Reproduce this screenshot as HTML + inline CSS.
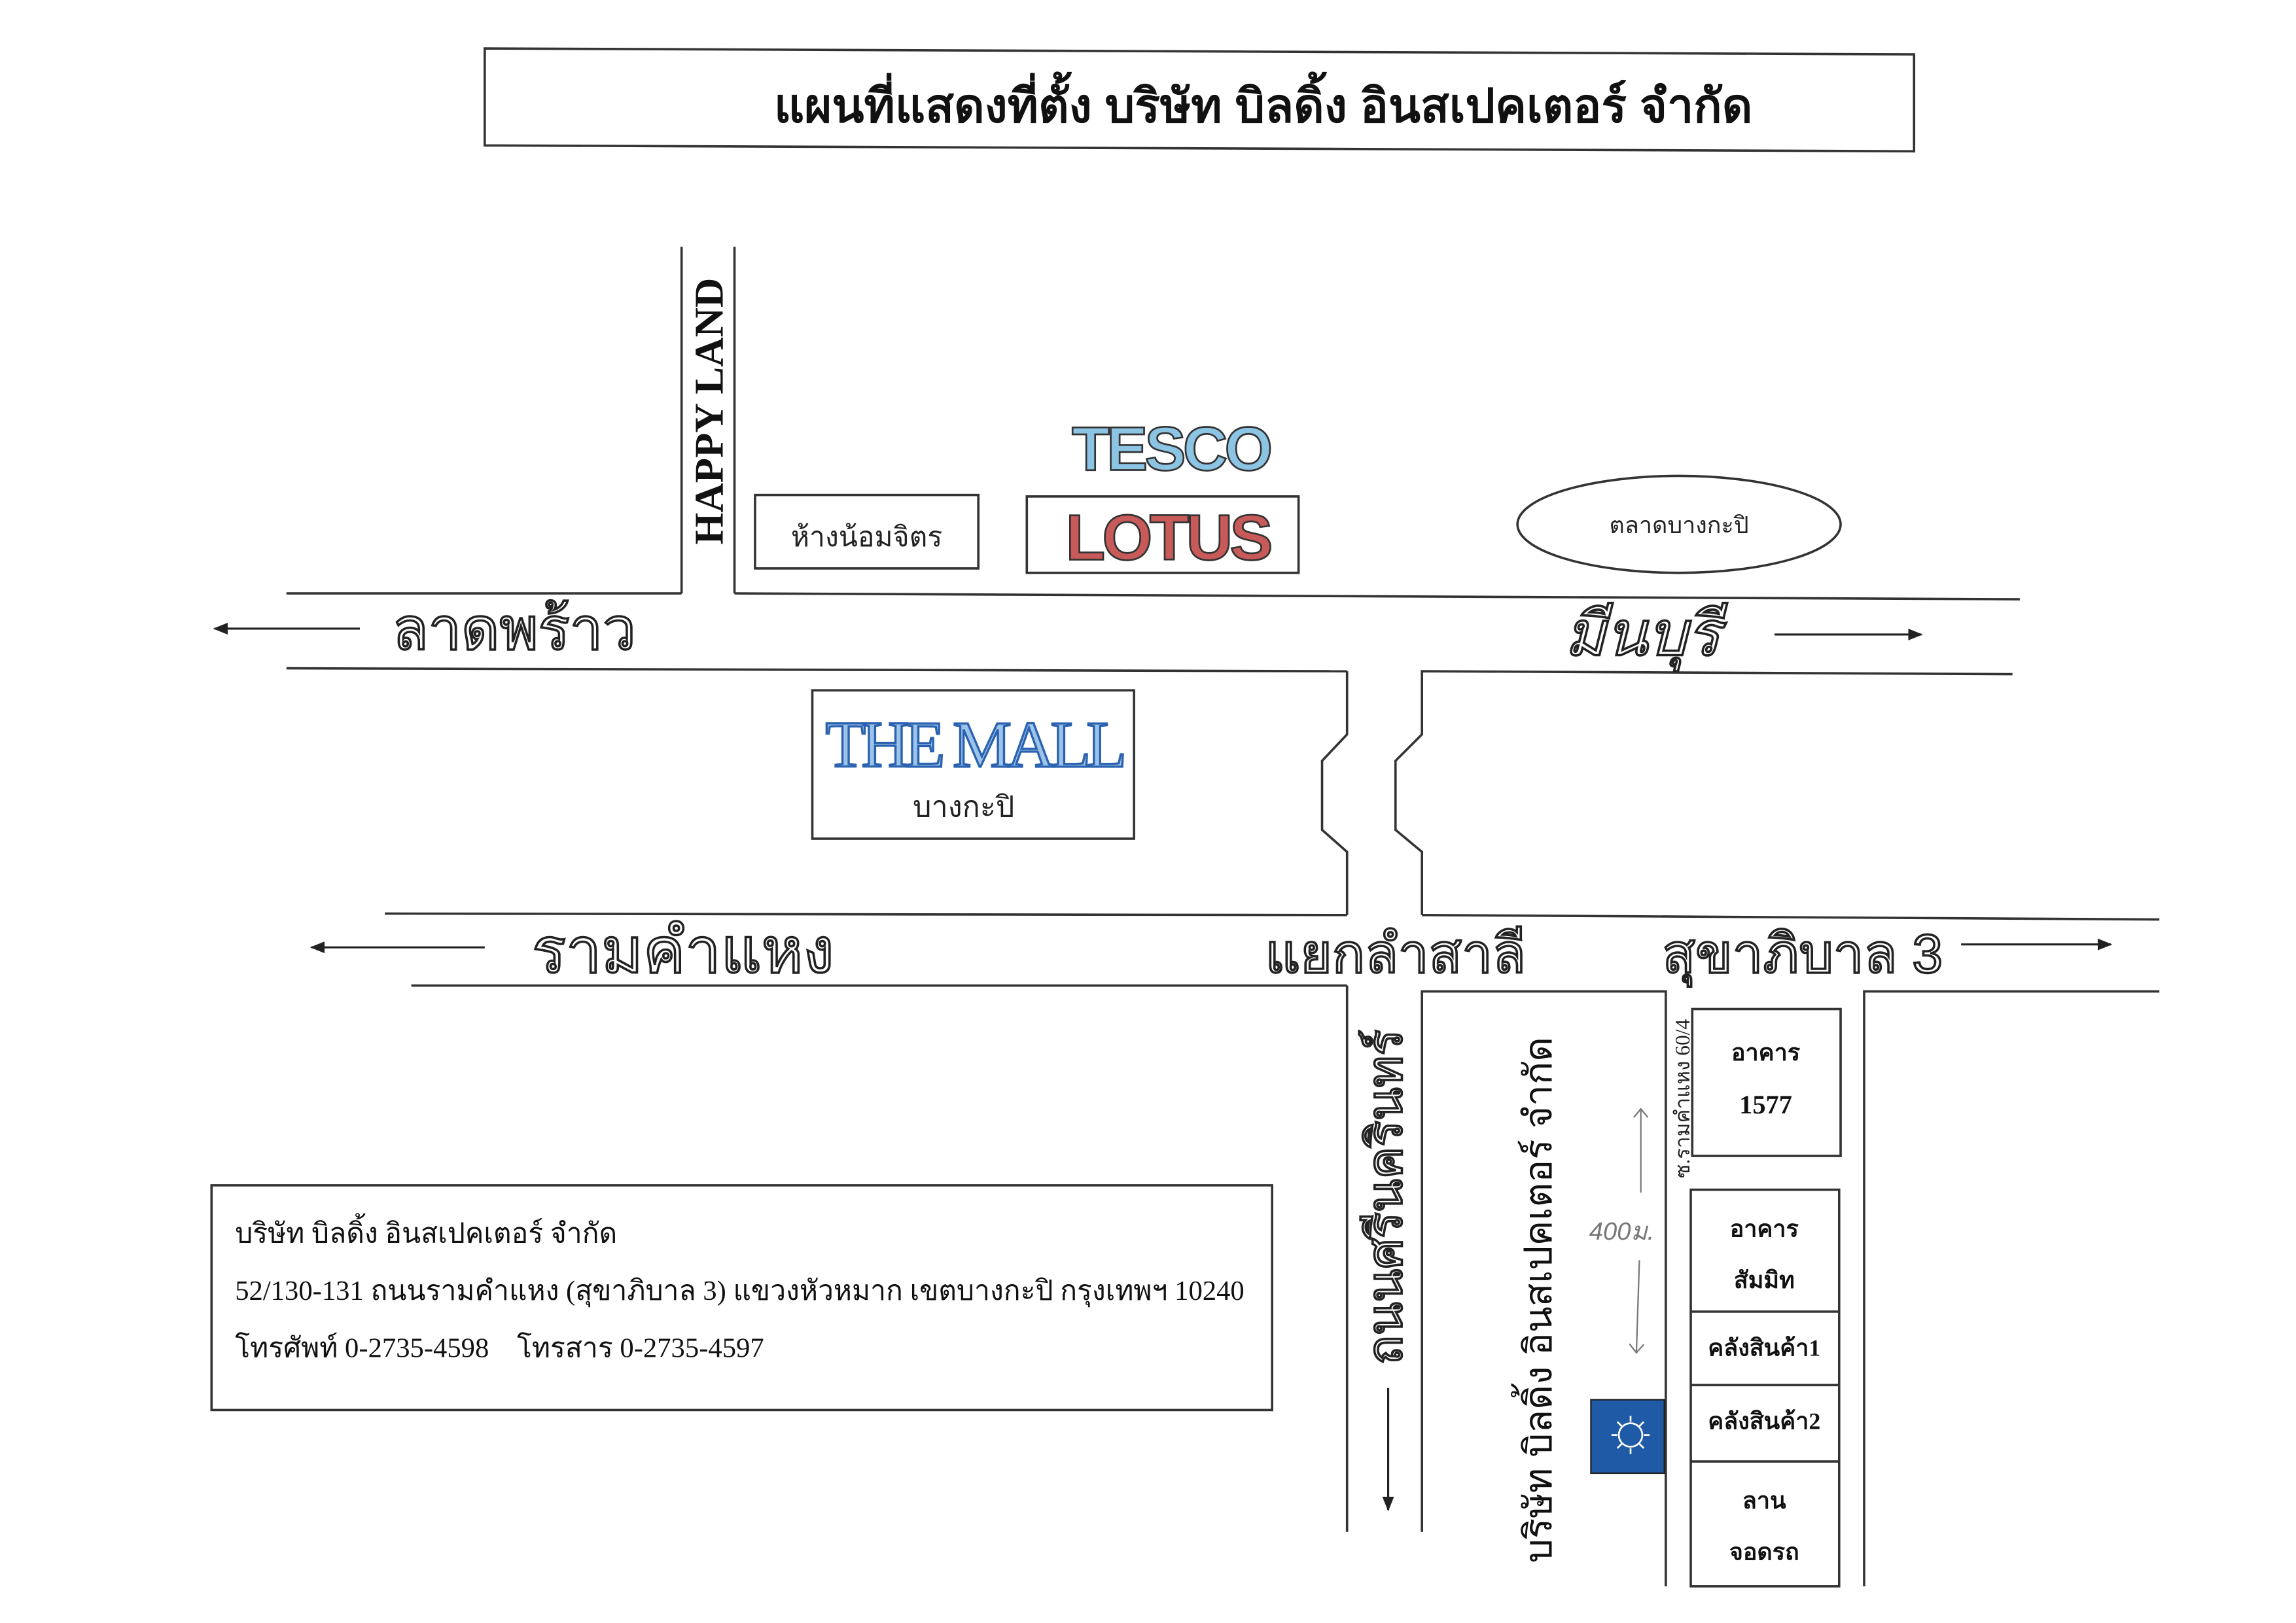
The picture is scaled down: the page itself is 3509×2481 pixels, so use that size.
<!DOCTYPE html>
<html><head><meta charset="utf-8">
<style>
html,body{margin:0;padding:0;background:#fff;}
svg{display:block;}
text{font-family:"Liberation Serif","Noto Serif CJK SC","Noto Sans CJK SC",serif;}
.th{font-family:"Liberation Sans","Noto Sans CJK SC",sans-serif;}
.ol{fill:#fff;stroke:#222;stroke-width:1.6;font-family:"Liberation Sans","Noto Sans CJK SC",sans-serif;}
</style></head>
<body>
<svg width="3509" height="2481" viewBox="0 0 1563 1105" preserveAspectRatio="none" xmlns="http://www.w3.org/2000/svg">
<defs>
<marker id="ah" markerWidth="10" markerHeight="8" refX="9" refY="4" orient="auto" markerUnits="userSpaceOnUse"><path d="M0,0 L10,4 L0,8 z" fill="#222"/></marker>
<marker id="ag" markerWidth="10" markerHeight="10" refX="5" refY="5" orient="auto" markerUnits="userSpaceOnUse"><path d="M0,0 L6,5 L0,10" fill="none" stroke="#777" stroke-width="1"/></marker>
</defs>
<rect width="1563" height="1105" fill="#fff"/>
<g stroke="#333" stroke-width="1.6" fill="none">
<polygon points="330,33 1303,37 1303,103 330,99" fill="#fff"/>
<line x1="464" y1="168" x2="464" y2="404"/>
<line x1="500" y1="168" x2="500" y2="404"/>
<line x1="195" y1="404" x2="464" y2="404"/>
<line x1="500" y1="404" x2="1375" y2="408"/>
<line x1="195" y1="455" x2="917" y2="457"/>
<polyline points="917,457 917,500 900,518 900,565 917,580 917,623"/>
<polyline points="968,623 968,580 950,565 950,518 968,500 968,457 1370,459"/>
<line x1="262" y1="622" x2="917" y2="623"/>
<line x1="968" y1="623" x2="1470" y2="626"/>
<line x1="280" y1="671" x2="917" y2="671"/>
<polyline points="917,671 917,1043"/>
<polyline points="1134,1080 1134,675 968,675 968,1043"/>
<polyline points="1470,675 1269,675 1269,1080"/>
<rect x="514" y="337" width="152" height="50"/>
<rect x="699" y="338" width="185" height="52"/>
<ellipse cx="1143" cy="357" rx="110" ry="33"/>
<rect x="553" y="470" width="219" height="101"/>
<rect x="1152" y="687" width="101" height="100"/>
<rect x="1151" y="810" width="101" height="270"/>
<line x1="1151" y1="893" x2="1252" y2="893"/>
<line x1="1151" y1="943" x2="1252" y2="943"/>
<line x1="1151" y1="995" x2="1252" y2="995"/>
<rect x="144" y="807" width="722" height="153"/>
</g>
<g stroke="#222" stroke-width="1.4">
<line x1="245" y1="428" x2="146" y2="428" marker-end="url(#ah)"/>
<line x1="1208" y1="432" x2="1308" y2="432" marker-end="url(#ah)"/>
<line x1="330" y1="645" x2="212" y2="645" marker-end="url(#ah)"/>
<line x1="1335" y1="643" x2="1437" y2="643" marker-end="url(#ah)"/>
<line x1="945" y1="945" x2="945" y2="1028" marker-end="url(#ah)"/>
</g>
<g stroke="#777" stroke-width="1" fill="none">
<line x1="1117" y1="812" x2="1117" y2="756" marker-end="url(#ag)"/>
<line x1="1116" y1="858" x2="1114" y2="920" marker-end="url(#ag)"/>
</g>
<text class="th" x="860" y="83" font-size="32" font-weight="bold" text-anchor="middle" fill="#111">แผนที่แสดงที่ตั้ง บริษัท บิลดิ้ง อินสเปคเตอร์ จำกัด</text>
<text x="0" y="0" transform="translate(492,280) rotate(-90)" font-size="28" font-weight="bold" text-anchor="middle" fill="#111">HAPPY LAND</text>
<text class="th" x="590" y="372" font-size="19" text-anchor="middle" fill="#222">ห้างน้อมจิตร</text>
<text x="797" y="320" font-size="42" font-weight="bold" text-anchor="middle" fill="#8cc4e4" stroke="#333" stroke-width="1.2" style="font-family:'Liberation Sans',sans-serif" letter-spacing="-2">TESCO</text>
<text x="795" y="381" font-size="44" font-weight="bold" text-anchor="middle" fill="#c85a5a" stroke="#333" stroke-width="1.2" style="font-family:'Liberation Sans',sans-serif" letter-spacing="-2">LOTUS</text>
<text class="th" x="1143" y="363" font-size="16" text-anchor="middle" fill="#222">ตลาดบางกะปิ</text>
<text x="663" y="522" font-size="45" text-anchor="middle" fill="#9cc3ea" stroke="#2a62b0" stroke-width="1.5" letter-spacing="-3">THE MALL</text>
<text class="th" x="656" y="556" font-size="20" text-anchor="middle" fill="#222">บางกะปิ</text>
<text class="ol" x="350" y="442" font-size="40" text-anchor="middle">ลาดพร้าว</text>
<text class="ol" x="1118" y="446" font-size="42" text-anchor="middle" font-style="italic">มีนบุรี</text>
<text class="ol" x="465" y="662" font-size="43" text-anchor="middle">รามคำแหง</text>
<text class="ol" x="950" y="662" font-size="37" text-anchor="middle">แยกลำสาลี</text>
<text class="ol" x="1227" y="662" font-size="37" text-anchor="middle">สุขาภิบาล 3</text>
<text class="ol" x="0" y="0" transform="translate(954,815) rotate(-90)" font-size="33" text-anchor="middle">ถนนศรีนครินทร์</text>
<text class="th" x="0" y="0" transform="translate(1056,885) rotate(-90)" font-size="26" text-anchor="middle" fill="#111">บริษัท บิลดิ้ง อินสเปคเตอร์ จำกัด</text>
<text x="0" y="0" transform="translate(1150,748) rotate(-90)" font-size="14" text-anchor="middle" fill="#222">ซ.รามคำแหง 60/4</text>
<text x="1104" y="844" font-size="17" font-style="italic" text-anchor="middle" fill="#777" class="th">400ม.</text>
<g class="th" font-weight="bold" font-size="16" text-anchor="middle" fill="#111">
<text x="1202" y="722">อาคาร</text>
<text x="1202" y="758" font-family="Liberation Serif" font-size="18">1577</text>
<text x="1201" y="842">อาคาร</text>
<text x="1201" y="877">สัมมิท</text>
<text x="1201" y="923">คลังสินค้า1</text>
<text x="1201" y="973">คลังสินค้า2</text>
<text x="1201" y="1027">ลาน</text>
<text x="1201" y="1062">จอดรถ</text>
</g>
<rect x="1083" y="953" width="50" height="50" fill="#1f5aa6" stroke="#222" stroke-width="1"/>
<g stroke="#fff" stroke-width="1.2" fill="none">
<circle cx="1110" cy="977" r="8"/>
<line x1="1110" y1="964" x2="1110" y2="968"/><line x1="1110" y1="986" x2="1110" y2="990"/>
<line x1="1097" y1="977" x2="1101" y2="977"/><line x1="1119" y1="977" x2="1123" y2="977"/>
<line x1="1101" y1="968" x2="1104" y2="971"/><line x1="1116" y1="983" x2="1119" y2="986"/>
<line x1="1119" y1="968" x2="1116" y2="971"/><line x1="1101" y1="986" x2="1104" y2="983"/>
</g>
<g class="th" font-size="19" fill="#111">
<text x="160" y="846">บริษัท บิลดิ้ง อินสเปคเตอร์ จำกัด</text>
<text x="160" y="885">52/130-131 ถนนรามคำแหง (สุขาภิบาล 3) แขวงหัวหมาก เขตบางกะปิ กรุงเทพฯ 10240</text>
<text x="160" y="924">โทรศัพท์ 0-2735-4598&#160;&#160;&#160;&#160;โทรสาร 0-2735-4597</text>
</g>
</svg>
</body></html>
